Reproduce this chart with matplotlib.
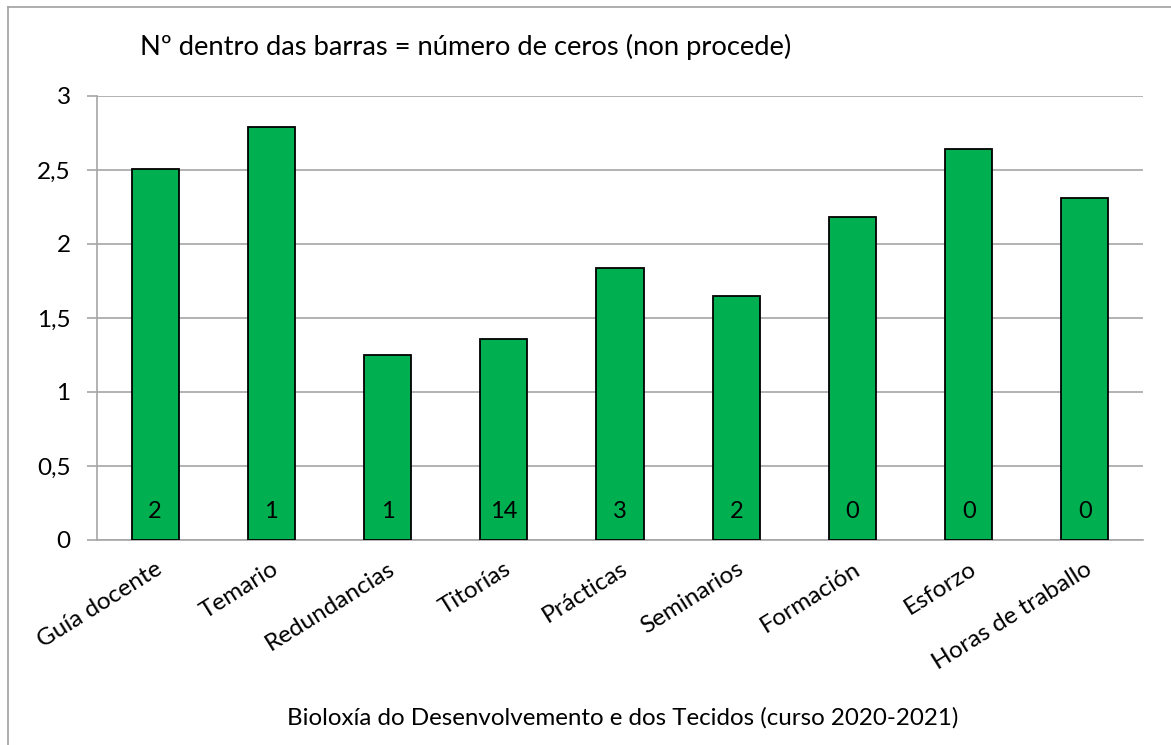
import matplotlib
matplotlib.use("Agg")
import matplotlib.pyplot as plt
from matplotlib.lines import Line2D

categories = ["Guía docente", "Temario", "Redundancias", "Titorías", "Prácticas",
              "Seminarios", "Formación", "Esforzo", "Horas de traballo"]
values = [2.51, 2.79, 1.25, 1.36, 1.84, 1.65, 2.18, 2.64, 2.31]
zeros = [2, 1, 1, 14, 3, 2, 0, 0, 0]
yticks = [0, 0.5, 1, 1.5, 2, 2.5, 3]
ytick_labels = ["0", "0,5", "1", "1,5", "2", "2,5", "3"]

plt.rcParams['font.family'] = ['Lato', 'DejaVu Sans']

W, H = 1171, 745
fig = plt.figure(figsize=(W / 100, H / 100), dpi=100)
ax = fig.add_axes([97 / W, 1 - 540 / H, (1143 - 97) / W, (540 - 96) / H])

grid_c = "#A6A6A6"
x = list(range(len(categories)))
bars = ax.bar(x, values, width=0.405, color="#00B050", edgecolor="black",
              linewidth=1.3, zorder=3)
for xi, z in zip(x, zeros):
    ax.text(xi, 0.19, str(z), ha="center", va="center", fontsize=17, color="black", zorder=4)

ax.set_xlim(-0.5, len(categories) - 0.5)
ax.set_ylim(0, 3)
ax.set_yticks(yticks)
ax.set_yticklabels(ytick_labels, fontsize=17.5)
ax.set_xticks(x)
ax.set_xticklabels(categories, fontsize=17.5, rotation=32, ha="right", rotation_mode="anchor")
ax.tick_params(axis="x", length=0, pad=13)
ax.tick_params(axis="y", length=7, width=1.2, color=grid_c, pad=12)
ax.yaxis.grid(True, color=grid_c, linewidth=1.2, zorder=0)
ax.set_axisbelow(True)
for s in ["top", "right"]:
    ax.spines[s].set_visible(False)
ax.spines["left"].set_color(grid_c)
ax.spines["left"].set_linewidth(1.2)
ax.spines["bottom"].set_color(grid_c)
ax.spines["bottom"].set_linewidth(1.2)

fig.text(140 / W, 1 - 47 / H, "Nº dentro das barras = número de ceros (non procede)",
         fontsize=19.7, ha="left", va="center")
fig.text(623 / W, 1 - 718 / H, "Bioloxía do Desenvolvemento e dos Tecidos (curso 2020-2021)",
         fontsize=17.4, ha="center", va="center")

# chart frame
fig.add_artist(Line2D([8 / W, 1], [1 - 7 / H, 1 - 7 / H], color="#A0A0A0", linewidth=1.2,
                      transform=fig.transFigure))
fig.add_artist(Line2D([8 / W, 8 / W], [0, 1 - 7 / H], color="#A0A0A0", linewidth=1.2,
                      transform=fig.transFigure))

fig.savefig("out.png", dpi=100, facecolor="white")
